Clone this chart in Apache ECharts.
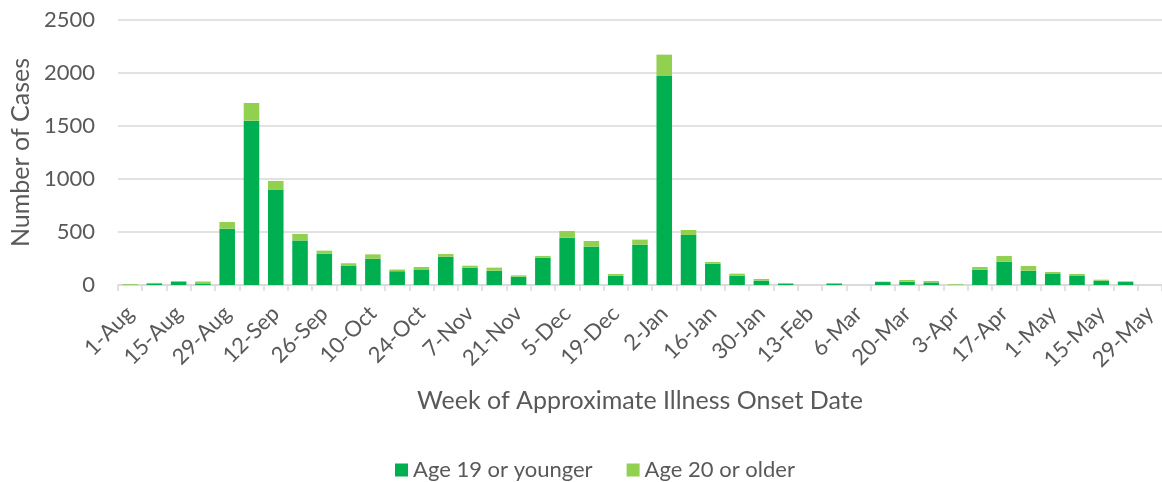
<!DOCTYPE html>
<html>
<head>
<meta charset="utf-8">
<script src="https://cdn.jsdelivr.net/npm/echarts@6/dist/echarts.min.js"></script>
<style>html,body{margin:0;padding:0;background:#fff;}#c{width:1162px;height:482px;}</style>
</head>
<body>
<div id="c"></div>
<script>
const categories = ['1-Aug','8-Aug','15-Aug','22-Aug','29-Aug','5-Sep','12-Sep','19-Sep','26-Sep','3-Oct','10-Oct','17-Oct','24-Oct','31-Oct','7-Nov','14-Nov','21-Nov','28-Nov','5-Dec','12-Dec','19-Dec','26-Dec','2-Jan','9-Jan','16-Jan','23-Jan','30-Jan','6-Feb','13-Feb','20-Feb','6-Mar','13-Mar','20-Mar','27-Mar','3-Apr','10-Apr','17-Apr','24-Apr','1-May','8-May','15-May','22-May','29-May'];
const age19OrYounger = [3,15,30,15,531,1550,900,420,296,180,248,130,147,267,164,135,79,258,447,362,88,381,1972,472,201,88,41,10,0,10,0,28,31,24,2,145,220,135,104,85,41,28,0];
const age20OrOlder   = [6,5,8,18,63,167,82,62,28,25,41,16,23,25,18,29,12,16,62,53,16,47,201,47,16,19,16,8,0,8,0,4,16,14,6,25,54,44,19,19,9,7,0];
const yTicks = {min:0, max:2500, interval:500};

const FONT = 'Lato';
const chart = echarts.init(document.getElementById('c'), null, {renderer:'canvas'});
chart.setOption({
  animation:false,
  textStyle:{fontFamily:FONT},
  grid:{left:112, top:20, width:1055, height:265, containLabel:false},
  legend:{
    left:390, top:454, itemWidth:13, itemHeight:13, itemGap:34, icon:'rect',
    textStyle:{fontFamily:FONT, fontSize:22, color:'#595959'},
    data:['Age 19 or younger','Age 20 or older']
  },
  xAxis:{
    type:'category', data:categories,
    axisLine:{lineStyle:{color:'#d9d9d9', width:1.5}},
    axisTick:{show:true, interval:0, length:6, lineStyle:{color:'#d9d9d9', width:1.5}},
    axisLabel:{interval:1, rotate:45, fontFamily:FONT, fontSize:22, color:'#595959', margin:25},
    name:'Week of Approximate Illness Onset Date', nameLocation:'middle', nameGap:103,
    nameTextStyle:{fontFamily:FONT, fontSize:25, color:'#595959'}
  },
  yAxis:{
    type:'value', min:yTicks.min, max:yTicks.max, interval:yTicks.interval,
    axisLine:{show:false}, axisTick:{show:false},
    splitLine:{lineStyle:{color:'#d9d9d9', width:1.5}},
    axisLabel:{fontFamily:FONT, fontSize:22, color:'#595959', margin:23, formatter:function(v){return String(v);}},
    name:'Number of Cases', nameLocation:'middle', nameGap:83,
    nameTextStyle:{fontFamily:FONT, fontSize:25, color:'#595959'}
  },
  series:[
    {name:'Age 19 or younger', type:'bar', stack:'a', data:age19OrYounger, barCategoryGap:'36%',
     itemStyle:{color:'#00B050'}},
    {name:'Age 20 or older', type:'bar', stack:'a', data:age20OrOlder, barCategoryGap:'36%',
     itemStyle:{color:'#92D050'}}
  ]
});
</script>
</body>
</html>
